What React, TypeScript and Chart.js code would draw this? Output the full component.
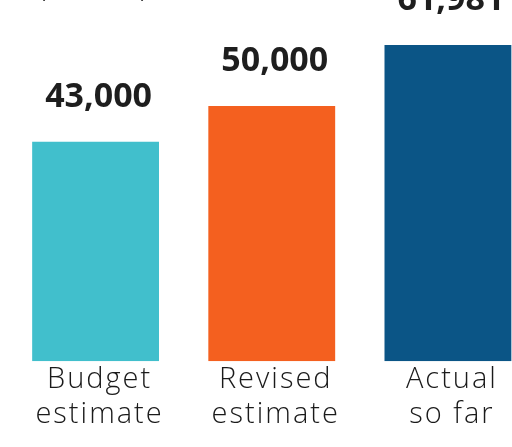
import React, { useEffect, useRef } from "react";
import { Chart, registerables } from "chart.js";

Chart.register(...registerables);

const categories: string[][] = [["Budget", "estimate"], ["Revised", "estimate"], ["Actual", "so far"]];
const values: number[] = [43000, 50000, 61981];
const valueLabels: string[] = ["43,000", "50,000", "61,981"];
const barColors: string[] = ["#41bfcc", "#f4601f", "#0b5586"];
const unitTitle = "(₹ crore)";

const spacingPlugin = {
  id: "letterSpacing",
  beforeDraw(chart: any) {
    chart.ctx.letterSpacing = "2px";
  },
};

const labelPlugin = {
  id: "valueLabels",
  afterDatasetsDraw(chart: any) {
    const ctx = chart.ctx;
    const meta = chart.getDatasetMeta(0);
    ctx.save();
    ctx.letterSpacing = "0px";
    ctx.font = "bold 34px 'Open Sans'";
    ctx.fillStyle = "#1e1e1e";
    ctx.textAlign = "center";
    ctx.textBaseline = "alphabetic";
    meta.data.forEach((bar: any, i: number) => {
      ctx.fillText(valueLabels[i], bar.x + 3, bar.y - 35);
    });
    ctx.font = "300 29px 'Open Sans'";
    ctx.textAlign = "center";
    ctx.fillStyle = "#222";
    ctx.fillText(unitTitle, 93, 36);
    ctx.restore();
  },
};

export default function App() {
  const ref = useRef<HTMLCanvasElement>(null);
  useEffect(() => {
    if (!ref.current) return;
    const chart = new Chart(ref.current, {
      type: "bar",
      data: {
        labels: categories,
        datasets: [
          {
            data: values,
            backgroundColor: barColors,
            barPercentage: 0.72,
            categoryPercentage: 1,
          },
        ],
      },
      options: {
        animation: false,
        responsive: false,
        maintainAspectRatio: false,
        layout: { padding: { left: 7.5, right: 20, top: 44, bottom: 13.8 } },
        plugins: { legend: { display: false }, tooltip: { enabled: false }, title: { display: false } },
        scales: {
          x: {
            grid: { display: false, drawTicks: false },
            border: { display: false },
            ticks: {
              color: "#1a1a1a",
              font: { family: "'Open Sans'", size: 29, weight: 300, lineHeight: 1.24 },
              padding: 0,
              labelOffset: 4,
              maxRotation: 0,
              autoSkip: false,
            },
          },
          y: {
            display: false,
            min: 0,
            max: 70000,
          },
        },
      },
      plugins: [spacingPlugin, labelPlugin],
    });
    return () => chart.destroy();
  }, []);
  return (
    <div style={{ position: "fixed", left: 0, top: 0, width: 512, height: 447, overflow: "hidden", background: "#fff" }}>
      <canvas ref={ref} width={556} height={487} style={{ position: "absolute", left: 0, top: -40, width: 556, height: 487 }} />
    </div>
  );
}
